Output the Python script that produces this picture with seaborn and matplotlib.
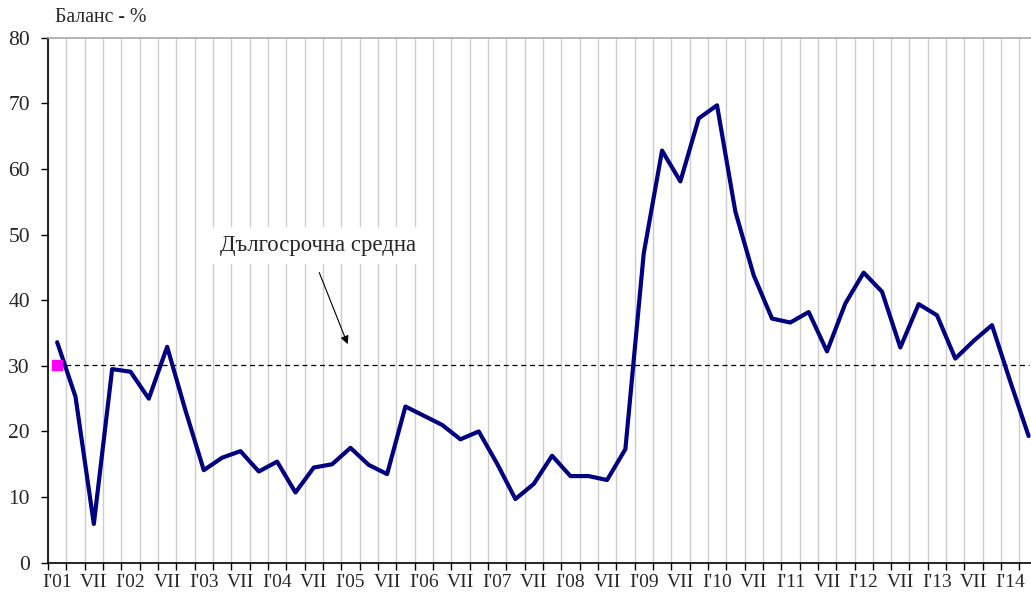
import matplotlib
matplotlib.use("Agg")
import matplotlib.pyplot as plt
import seaborn as sns
import numpy as np

# quarterly balance (%), Q1 2001 .. Q2 2014
balance = [33.6, 25.3, 5.9, 29.5, 29.1, 25.0, 32.9, 23.2,
           14.1, 16.0, 17.0, 13.9, 15.4, 10.7, 14.5, 15.0,
           17.5, 14.9, 13.5, 23.8, 22.4, 21.0, 18.8, 20.0,
           15.1, 9.7, 12.0, 16.3, 13.2, 13.2, 12.6, 17.3,
           47.1, 62.8, 58.1, 67.7, 69.7, 53.5, 43.8, 37.2,
           36.6, 38.2, 32.2, 39.5, 44.2, 41.3, 32.8, 39.4,
           37.7, 31.1, 33.8, 36.2, 27.6, 19.3]
long_term_avg = 30.1

tick_labels = ["I'01", "VII", "I'02", "VII", "I'03", "VII", "I'04", "VII",
               "I'05", "VII", "I'06", "VII", "I'07", "VII", "I'08", "VII",
               "I'09", "VII", "I'10", "VII", "I'11", "VII", "I'12", "VII",
               "I'13", "VII", "I'14"]

sns.set_style("white")
plt.rcParams['font.family'] = ['Liberation Serif', 'DejaVu Serif']

fig = plt.figure(figsize=(10.31, 5.96), dpi=100)
# plot area runs a little past the right edge of the picture
ax = fig.add_axes([48 / 1031, 1 - 562.7 / 596, (1037.8 - 48) / 1031, (562.7 - 37.7) / 596])

n = len(balance)
x = np.arange(n)

ax.plot(x, [long_term_avg] * n, color='black', lw=0.9, ls=(0, (4, 3)), zorder=2)
sns.lineplot(x=x, y=balance, color='#000080', lw=3, ax=ax, zorder=3)
ax.plot([0], [long_term_avg], marker='s', ms=6.5, color='#ff00ff', ls='none', zorder=4)

ax.set_xlim(-0.5, n - 0.5)
ax.set_ylim(0, 80)
ax.set_yticks(range(0, 81, 10))

# boundaries: gridlines + tick marks, centers: labels
ax.set_xticks(np.arange(n + 1) - 0.5)
ax.set_xticklabels([])
ax.set_xticks(np.arange(0, len(tick_labels) * 2, 2), minor=True)
ax.set_xticklabels(tick_labels, minor=True)
ax.tick_params(axis='x', which='major', direction='out', length=5, width=1, color='black', bottom=True)
ax.tick_params(axis='x', which='minor', length=0, pad=8, labelsize=14)
ax.tick_params(axis='y', direction='out', length=5, width=1, color='black', left=True, pad=8, labelsize=15.5)

ax.grid(axis='x', which='major', color='#cccccc', lw=1.0)
ax.grid(axis='y', visible=False)
ax.set_axisbelow(True)

for side in ['left', 'bottom']:
    ax.spines[side].set_color('black')
    ax.spines[side].set_linewidth(1.2)
ax.spines['top'].set_color('#a8a8a8')
ax.spines['top'].set_linewidth(1.2)
ax.spines['right'].set_visible(False)

ax.text(14.23, 48.4, 'Дългосрочна средна', fontsize=16.4, ha='center', va='center',
        bbox=dict(boxstyle='square,pad=0.35', fc='white', ec='none'), zorder=5)
ax.annotate('', xy=(15.85, 33.3), xytext=(14.3, 44.2),
            arrowprops=dict(arrowstyle='-|>', color='black', lw=0.8,
                            mutation_scale=12, shrinkA=0, shrinkB=0), zorder=5)

fig.text(55 / 1031, 1 - 18 / 596, 'Баланс - %', fontsize=14.2, ha='left', va='center')

fig.savefig('out.png', dpi=100)
